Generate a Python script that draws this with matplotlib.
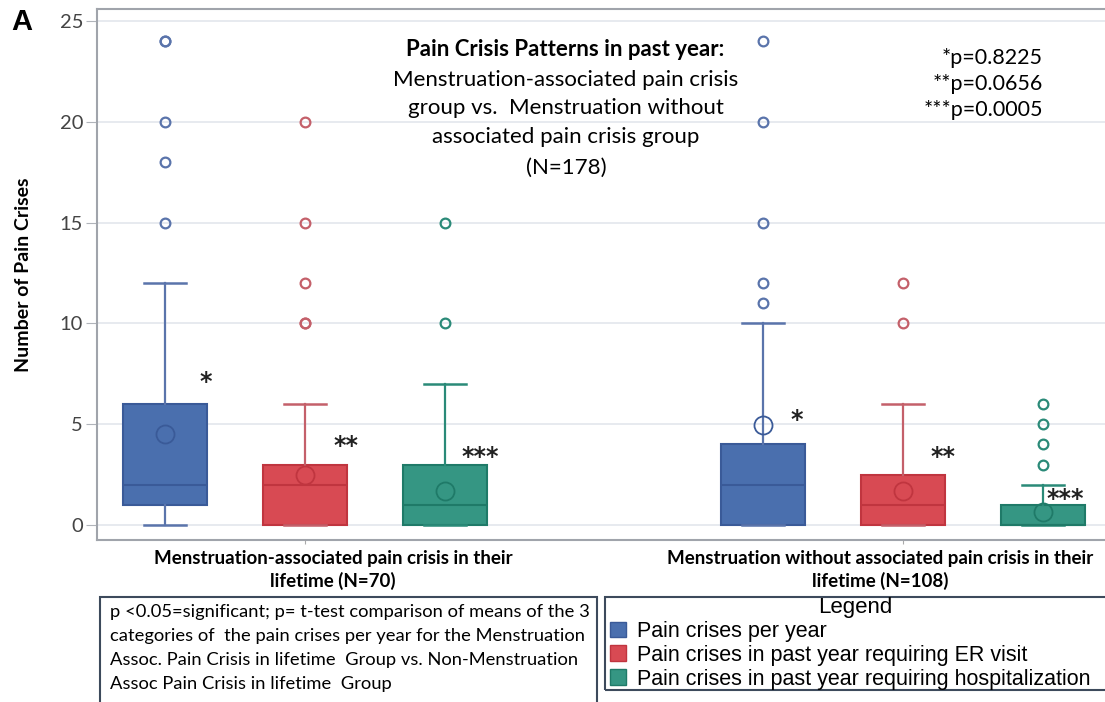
import matplotlib.pyplot as plt
from matplotlib.patches import Rectangle, Patch

# box statistics: one entry per box
groups = ["Menstruation-associated pain crisis in their\nlifetime (N=70)",
          "Menstruation without associated pain crisis in their\nlifetime (N=108)"]
series = ["Pain crises per year",
          "Pain crises in past year requiring ER visit",
          "Pain crises in past year requiring hospitalization"]
whislo = [0, 0, 0, 0, 0, 0]
q1 = [1, 0, 0, 0, 0, 0]
med = [2, 2, 1, 2, 1, 0]
q3 = [6, 3, 3, 4, 2.5, 1]
whishi = [12, 6, 7, 10, 6, 2]
means = [4.5, 2.5, 1.7, 4.95, 1.7, 0.65]
fliers = [[15, 18, 20, 24, 24], [10, 10, 12, 15, 20], [10, 15],
          [11, 12, 15, 20, 24], [10, 12], [3, 4, 5, 6]]
stars = ["*", "**", "***", "*", "**", "***"]
star_y = [7.1, 3.9, 3.4, 5.2, 3.4, 1.3]
pvals = ["*p=0.8225", "**p=0.0656", "***p=0.0005"]
yticks = [0, 5, 10, 15, 20, 25]

fills = ["#4a6fae", "#d84a53", "#359683"]
edges = ["#3a5a98", "#c0353f", "#1f7a68"]
whisk = ["#5a74ab", "#c4606a", "#2a8a78"]

W, H = 1105, 702
def fx(x):
    return x / W
def fy(y):
    return 1 - y / H

positions = [0, 1, 2, 4.27, 5.27, 6.27]
star_dx = [0.29, 0.29, 0.25, 0.24, 0.29, 0.16]
cal = ["Lato", "DejaVu Sans"]
arial = ["Liberation Sans", "DejaVu Sans"]

fig = plt.figure(figsize=(11.05, 7.02), dpi=100)
ax = fig.add_axes([fx(97), fy(540), 1 - fx(97), fy(9) - fy(540)])

for i, p in enumerate(positions):
    c = i % 3
    st = dict(whislo=whislo[i], q1=q1[i], med=med[i], q3=q3[i],
              whishi=whishi[i], mean=means[i], fliers=fliers[i])
    ax.bxp([st], positions=[p], widths=0.6, capwidths=0.3, showmeans=True,
           meanline=False, patch_artist=True,
           boxprops=dict(facecolor=fills[c], edgecolor=edges[c], linewidth=1.5),
           medianprops=dict(color=edges[c], linewidth=1.5),
           whiskerprops=dict(color=whisk[c], linewidth=1.6),
           capprops=dict(color=whisk[c], linewidth=1.8),
           meanprops=dict(marker="o", markerfacecolor="none",
                          markeredgecolor=edges[c], markersize=13, markeredgewidth=1.3),
           flierprops=dict(marker="o", markerfacecolor="none",
                           markeredgecolor=whisk[c], markersize=7, markeredgewidth=1.6))
    ax.text(p + star_dx[i], star_y[i], stars[i], ha="center", va="center",
            fontsize=17, fontweight="bold", color="#222222")

ax.set_xlim(-0.486, 6.714)
ax.set_ylim(-0.74, 25.6)
ax.set_yticks(yticks)
ax.set_yticklabels([str(t) for t in yticks], fontsize=14.5, color="#444444", family=cal)
ax.set_xticks([1, 5.27])
ax.set_xticklabels(["", ""])
ax.tick_params(axis="x", length=3, color="#aaaaaa")
ax.tick_params(axis="y", length=8, color="#b0b4ba", pad=2)
ax.grid(axis="y", color="#e3e6ec", linewidth=1.2)
ax.set_axisbelow(True)
for s in ["left", "bottom", "top"]:
    ax.spines[s].set_color("#a0a4ab")
    ax.spines[s].set_linewidth(1.5)
ax.spines["right"].set_visible(False)

ax.set_ylabel("Number of Pain Crises", fontsize=14, fontweight="bold",
              family=cal, labelpad=20)
fig.text(fx(22), fy(22), "A", fontsize=21, fontweight="bold", ha="center",
         va="center", family=arial)

fig.text(fx(565), fy(50), "Pain Crisis Patterns in past year:", ha="center",
         va="center", fontsize=16, fontweight="bold", family=cal)
title_lines = ["Menstruation-associated pain crisis", "group vs.  Menstruation without",
               "associated pain crisis group", "(N=178)"]
for line, yy in zip(title_lines, [80, 108, 137, 168]):
    fig.text(fx(566), fy(yy), line, ha="center", va="center", fontsize=16, family=cal)
for line, yy in zip(pvals, [58, 84, 110]):
    fig.text(fx(1043), fy(yy), line, ha="right", va="center", fontsize=15.5, family=cal)

for g, xx in zip(groups, [333, 880]):
    fig.text(fx(xx), fy(570), g, ha="center", va="center", fontsize=13.5,
             fontweight="bold", family=cal, linespacing=1.3)

# note box
fig.patches.append(Rectangle((fx(100), fy(712)), fx(497), fy(597) - fy(712),
                             transform=fig.transFigure, fill=False,
                             edgecolor="#3d4a5c", linewidth=1.5))
note = ["p <0.05=significant; p= t-test comparison of means of the 3",
        "categories of  the pain crises per year for the Menstruation",
        "Assoc. Pain Crisis in lifetime  Group vs. Non-Menstruation",
        "Assoc Pain Crisis in lifetime  Group"]
for line, yy in zip(note, [612, 636, 660, 684]):
    fig.text(fx(110), fy(yy), line, ha="left", va="center", fontsize=13.2, family=cal)

# legend box
fig.patches.append(Rectangle((fx(605), fy(690)), fx(510), fy(597) - fy(690),
                             transform=fig.transFigure, fill=False,
                             edgecolor="#3d4a5c", linewidth=1.5))
fig.text(fx(855), fy(607), "Legend", ha="center", va="center", fontsize=16,
         family=arial)
handles = [Patch(facecolor=fills[k], edgecolor=edges[k]) for k in range(3)]
fig.legend(handles, series, loc="upper left", bbox_to_anchor=(fx(610), fy(621)),
           frameon=False, handlelength=0.75, handleheight=0.75,
           handletextpad=0.5, labelspacing=0.13, borderpad=0, borderaxespad=0,
           prop={"family": arial, "size": 15.5})

fig.savefig("out.png", dpi=100)
